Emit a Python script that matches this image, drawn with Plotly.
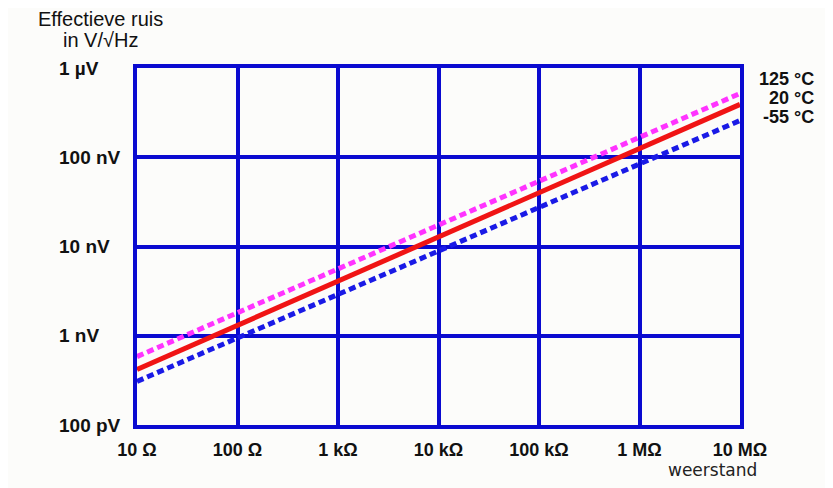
import math

import plotly.graph_objects as go

# resistance in ohm, noise in V/sqrt(Hz)
resistance = [10, 1e7]
noise_125 = [5.84e-10, 5.18e-7]
noise_20 = [4.19e-10, 3.91e-7]
noise_m55 = [3.08e-10, 2.58e-7]

x_ticks = [10, 100, 1e3, 1e4, 1e5, 1e6, 1e7]
x_labels = ["10 Ω", "100 Ω", "1 kΩ", "10 kΩ", "100 kΩ", "1 MΩ", "10 MΩ"]
y_ticks = [1e-6, 1e-7, 1e-8, 1e-9, 1e-10]
y_labels = ["1 µV", "100 nV", "10 nV", "1 nV", "100 pV"]
temp_labels = ["125 °C", "20 °C", "-55 °C"]

grid_blue = "#0a0ad0"
bg = "#fcfcfa"
ink = "#111111"
sans = "Liberation Sans, Arial"

fig = go.Figure()
fig.add_trace(go.Scatter(x=resistance, y=noise_m55, mode="lines",
                         line=dict(color="#1a1ae6", width=5, dash="7px,4px")))
fig.add_trace(go.Scatter(x=resistance, y=noise_125, mode="lines",
                         line=dict(color="#ff33ff", width=5, dash="7px,4px")))
fig.add_trace(go.Scatter(x=resistance, y=noise_20, mode="lines",
                         line=dict(color="#f01414", width=5)))

axis_style = dict(showgrid=True, gridcolor=grid_blue, gridwidth=4,
                  showline=True, linecolor=grid_blue, linewidth=4, mirror=True,
                  zeroline=False, ticks="")

fig.update_xaxes(type="log", range=[1, 7], tickvals=x_ticks,
                 ticktext=["<b>" + t + "</b>" for t in x_labels],
                 tickfont=dict(family=sans, size=18, color=ink),
                 ticklabelstandoff=5, **axis_style)
fig.update_yaxes(type="log", range=[-10, -6], tickvals=y_ticks, showticklabels=False,
                 **axis_style)

annotations = []
for val, txt in zip(y_ticks, y_labels):
    annotations.append(dict(xref="paper", yref="y", x=-0.133, y=math.log10(val),
                            text="<b>" + txt + "</b>", showarrow=False, xanchor="left",
                            yanchor="middle", font=dict(family=sans, size=19, color=ink)))
# temperature labels at the right end of the lines
for yp, txt in zip([0.9695, 0.9165, 0.8635], temp_labels):
    annotations.append(dict(xref="paper", yref="paper", x=1.1252, y=yp,
                            text="<b>" + txt + "</b>", showarrow=False, xanchor="right",
                            yanchor="middle", borderpad=0,
                            font=dict(family=sans, size=18, color=ink)))
# y axis title, two lines placed separately
for yp, txt in zip([1.1385, 1.0779], ["Effectieve ruis", "in V/√Hz"]):
    annotations.append(dict(xref="paper", yref="paper", x=-0.0607, y=yp, text=txt,
                            showarrow=False, xanchor="center", yanchor="middle",
                            borderpad=0, font=dict(family=sans, size=20, color=ink)))
annotations.append(dict(xref="paper", yref="paper", x=0.954, y=-0.125,
                        text="weerstand", showarrow=False,
                        xanchor="center", yanchor="middle", borderpad=0,
                        font=dict(family="DejaVu Sans", size=17, color="#222222")))

fig.update_layout(width=833, height=488, margin=dict(l=129, r=101, t=60, b=71),
                  paper_bgcolor=bg, plot_bgcolor=bg, showlegend=False,
                  annotations=annotations)

fig.write_html("out.html")
